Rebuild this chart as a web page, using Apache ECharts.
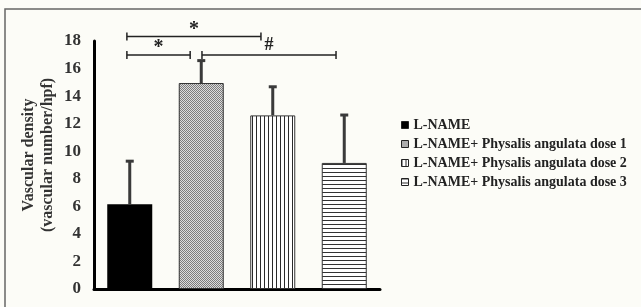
<!DOCTYPE html>
<html lang="en" style="height: 100%">

<head>
    <meta charset="utf-8">
</head>

<body style="height: 100%; margin: 0; background: #fcfcf7;">
    <div id="container" style="width: 641px; height: 307px"></div>

    <script type="text/javascript" src="https://cdn.jsdelivr.net/npm/echarts@6.0.0/dist/echarts.min.js"></script>
    <script type="text/javascript">
        // data
        var categories = ['L-NAME', 'dose 1', 'dose 2', 'dose 3'];
        var seriesNames = ['L-NAME', 'L-NAME+ Physalis angulata dose 1', 'L-NAME+ Physalis angulata dose 2', 'L-NAME+ Physalis angulata dose 3'];
        var meanValues = [6.15, 14.95, 12.6, 9.15];
        var upperValues = [9.35, 16.65, 14.75, 12.7];
        var yTicks = [0, 2, 4, 6, 8, 10, 12, 14, 16, 18];

        // significance brackets: category positions (fractional) and height
        var bracketFrom = [-0.04, -0.04, 1.01];
        var bracketTo = [1.835, 0.845, 2.885];
        var bracketY = [18.32, 16.98, 16.98];
        var bracketLabel = ['*', '*', '#'];

        var FONT = '"Liberation Serif", "Times New Roman", serif';

        function makePattern(w, h, draw) {
            var c = document.createElement('canvas');
            c.width = w;
            c.height = h;
            draw(c.getContext('2d'));
            return { image: c, repeat: 'repeat' };
        }

        var patterns = [
            '#000000',
            makePattern(2, 2, function (g) {
                g.fillStyle = '#dcdcdc';
                g.fillRect(0, 0, 2, 2);
                g.fillStyle = '#7c7c7c';
                g.fillRect(0, 0, 1, 1);
                g.fillRect(1, 1, 1, 1);
            }),
            makePattern(4, 1, function (g) {
                g.fillStyle = '#ffffff';
                g.fillRect(0, 0, 4, 1);
                g.fillStyle = '#2a2a2a';
                g.fillRect(0, 0, 1, 1);
            }),
            makePattern(1, 4, function (g) {
                g.fillStyle = '#ffffff';
                g.fillRect(0, 0, 1, 4);
                g.fillStyle = '#333333';
                g.fillRect(0, 0, 1, 1);
            })
        ];

        var myChart = echarts.init(document.getElementById('container'), null, { renderer: 'canvas' });

        var barSeries = seriesNames.map(function (name, i) {
            return {
                name: name,
                type: 'bar',
                barWidth: 45,
                barGap: '-100%',
                data: meanValues.map(function (v, j) { return j === i ? v : '-'; }),
                itemStyle: {
                    color: patterns[i],
                    borderColor: '#333',
                    borderWidth: i === 0 ? 0 : 1
                },
                z: 2
            };
        });

        var errorSeries = {
            type: 'custom',
            data: meanValues.map(function (v, j) { return [j, v, upperValues[j]]; }),
            renderItem: function (params, api) {
                var base = api.coord([api.value(0), api.value(1)]);
                var top = api.coord([api.value(0), api.value(2)]);
                var st = { stroke: '#3a3a3a', lineWidth: 3 };
                return {
                    type: 'group',
                    children: [
                        { type: 'line', shape: { x1: base[0], y1: base[1], x2: top[0], y2: top[1] + 1 }, style: st },
                        { type: 'line', shape: { x1: top[0] - 4, y1: top[1] + 1, x2: top[0] + 4, y2: top[1] + 1 }, style: st }
                    ]
                };
            },
            z: 3
        };

        var bracketSeries = {
            type: 'custom',
            data: bracketY.map(function (y, i) { return [0, y]; }),
            renderItem: function (params, api) {
                var i = params.dataIndex;
                var band = api.size([1, 0])[0];
                var p0 = api.coord([0, bracketY[i]]);
                var x0 = p0[0] + bracketFrom[i] * band;
                var x1 = p0[0] + bracketTo[i] * band;
                var y = p0[1];
                var st = { stroke: '#222', lineWidth: 1.5 };
                var isStar = bracketLabel[i] === '*';
                return {
                    type: 'group',
                    children: [
                        { type: 'line', shape: { x1: x0, y1: y, x2: x1, y2: y }, style: st },
                        { type: 'line', shape: { x1: x0, y1: y - 4, x2: x0, y2: y + 4 }, style: st },
                        { type: 'line', shape: { x1: x1, y1: y - 4, x2: x1, y2: y + 4 }, style: st },
                        {
                            type: 'text',
                            style: {
                                text: bracketLabel[i],
                                x: (x0 + x1) / 2,
                                y: isStar ? y - 7 : y - 10,
                                align: 'center',
                                verticalAlign: 'middle',
                                fill: '#222',
                                font: 'bold ' + (isStar ? 20 : 18) + 'px ' + FONT
                            }
                        }
                    ]
                };
            },
            z: 4
        };

        var option = {
            animation: false,
            backgroundColor: '#fcfcf7',
            grid: { left: 94, top: 41, width: 286, height: 248 },
            legend: {
                orient: 'vertical',
                left: 396,
                top: 113,
                icon: 'rect',
                itemWidth: 7,
                itemHeight: 7,
                itemGap: 5,
                data: seriesNames,
                textStyle: {
                    fontFamily: FONT,
                    fontWeight: 'bold',
                    fontSize: 14,
                    lineHeight: 14,
                    color: '#222'
                },
                itemStyle: { borderColor: '#222', borderWidth: 1 }
            },
            xAxis: {
                type: 'category',
                data: categories,
                axisLine: { lineStyle: { color: '#000', width: 3 } },
                axisTick: { show: false },
                axisLabel: { show: false }
            },
            yAxis: {
                type: 'value',
                min: yTicks[0],
                max: yTicks[yTicks.length - 1],
                interval: 2,
                splitLine: { show: false },
                axisTick: { show: false },
                axisLine: { show: true, lineStyle: { color: '#000', width: 3 } },
                axisLabel: {
                    margin: 13,
                    fontFamily: FONT,
                    fontWeight: 'bold',
                    fontSize: 17,
                    color: '#333'
                },
                name: 'Vascular density\n(vascular number/hpf)',
                nameLocation: 'middle',
                nameRotate: 90,
                nameGap: 37,
                nameTextStyle: {
                    fontFamily: FONT,
                    fontWeight: 'bold',
                    fontSize: 16,
                    lineHeight: 19,
                    color: '#333',
                    padding: [0, 0, 0, 20]
                }
            },
            graphic: [{
                type: 'rect',
                shape: { x: 5, y: 9, width: 700, height: 400 },
                style: { fill: 'none', stroke: '#666', lineWidth: 1.5 },
                silent: true
            }],
            series: barSeries.concat([errorSeries, bracketSeries])
        };

        myChart.setOption(option);
        window.addEventListener('resize', myChart.resize);
    </script>
</body>

</html>
